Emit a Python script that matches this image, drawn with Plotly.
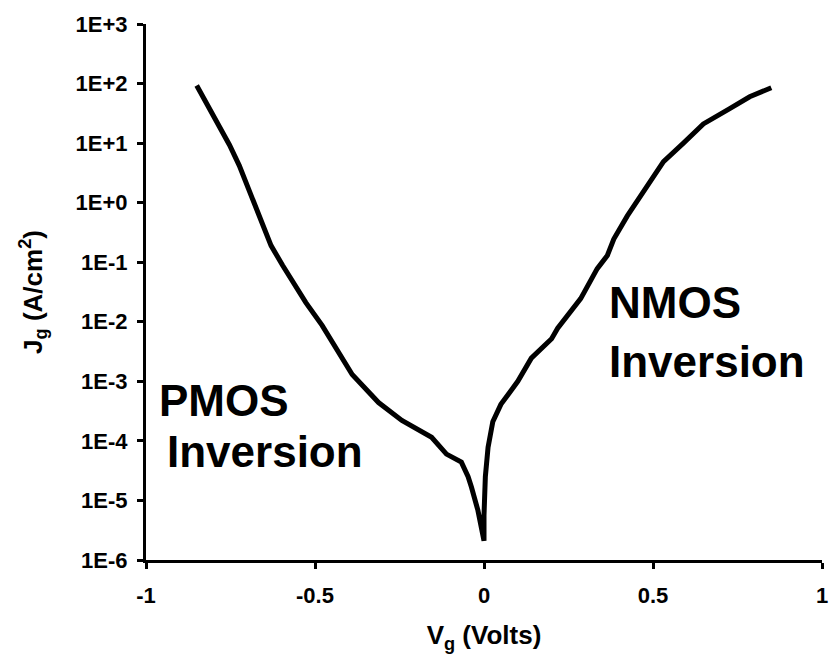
import plotly.graph_objects as go

# Gate voltage (V) and gate current density (A/cm^2)
vg = [-0.85, -0.753, -0.724, -0.675, -0.63, -0.596, -0.527, -0.479, -0.439, -0.39,
      -0.312, -0.243, -0.155, -0.111, -0.067, -0.047, -0.037, -0.018, 0.0,
      0.0, 0.004, 0.012, 0.026, 0.05, 0.10, 0.14, 0.20, 0.218, 0.286, 0.335,
      0.365, 0.384, 0.424, 0.482, 0.531, 0.59, 0.649, 0.727, 0.786, 0.85]
jg = [93, 9.3, 4.2, 0.89, 0.19, 0.089, 0.021, 8.7e-3, 3.6e-3, 1.3e-3,
      4.4e-4, 2.2e-4, 1.15e-4, 6.0e-5, 4.4e-5, 2.5e-5, 1.66e-5, 6.8e-6, 2.1e-6,
      5.6e-6, 2.5e-5, 7.8e-5, 2.1e-4, 4.1e-4, 1.0e-3, 2.45e-3, 5.2e-3, 7.8e-3, 0.0245, 0.078,
      0.13, 0.245, 0.6, 1.9, 4.9, 10, 21, 38, 60, 85]

x_ticks = [-1, -0.5, 0, 0.5, 1]
x_ticklabels = ["-1", "-0.5", "0", "0.5", "1"]
y_ticks = [1e-6, 1e-5, 1e-4, 1e-3, 1e-2, 1e-1, 1e0, 1e1, 1e2, 1e3]
y_ticklabels = ["1E-6", "1E-5", "1E-4", "1E-3", "1E-2", "1E-1", "1E+0", "1E+1", "1E+2", "1E+3"]

FONT = "Liberation Sans, Arial, sans-serif"

fig = go.Figure()
fig.add_trace(go.Scatter(x=vg, y=jg, mode="lines",
                         line=dict(color="black", width=5), showlegend=False))

axis_common = dict(showline=True, linecolor="black", linewidth=3, ticks="outside",
                   ticklen=6, tickwidth=3, tickcolor="black", showgrid=False,
                   zeroline=False, mirror=False,
                   tickfont=dict(family=FONT, size=22, color="black", weight="bold"))

fig.update_layout(
    width=840, height=659,
    margin=dict(l=146, r=14, t=20, b=99),
    paper_bgcolor="white", plot_bgcolor="white",
    font=dict(family=FONT, color="black"),
    xaxis=dict(range=[-1, 1], tickvals=x_ticks, ticktext=x_ticklabels,
               ticklabelstandoff=8,
               title=dict(text="<b>V<sub>g</sub> (Volts)</b>",
                          font=dict(family=FONT, size=26, color="black"), standoff=19),
               **axis_common),
    yaxis=dict(type="log", range=[-6, 3], tickvals=y_ticks, ticktext=y_ticklabels,
               ticklabelstandoff=5,
               title=dict(text="<b>J<sub>g</sub> (A/cm<sup>2</sup>)</b>",
                          font=dict(family=FONT, size=26, color="black"), standoff=26),
               **axis_common),
)

def px_to_paper(px, py):
    return (px - 146) / (826 - 146), (560 - py) / (560 - 20)

labels = [("PMOS", 157, 399), ("Inversion", 165, 451),
          ("NMOS", 610, 301), ("Inversion", 610, 360)]
for txt, px, py in labels:
    xp, yp = px_to_paper(px, py)
    fig.add_annotation(text="<b>" + txt + "</b>", x=xp, y=yp, xref="paper", yref="paper",
                       xanchor="left", yanchor="middle", showarrow=False,
                       font=dict(family=FONT, size=44, color="black"))

fig.write_html("out.html")
